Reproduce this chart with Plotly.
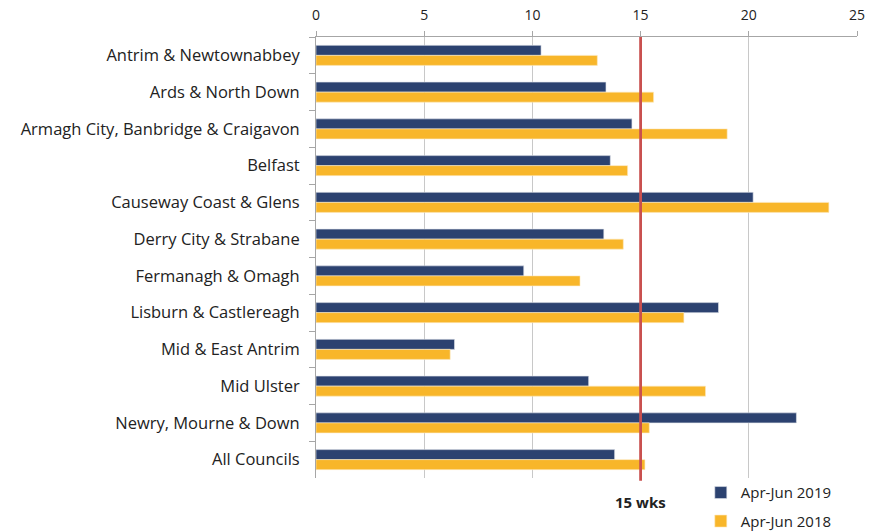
import plotly.graph_objects as go

councils = [
    "Antrim & Newtownabbey",
    "Ards & North Down",
    "Armagh City, Banbridge & Craigavon",
    "Belfast",
    "Causeway Coast & Glens",
    "Derry City & Strabane",
    "Fermanagh & Omagh",
    "Lisburn & Castlereagh",
    "Mid & East Antrim",
    "Mid Ulster",
    "Newry, Mourne & Down",
    "All Councils",
]
apr_jun_2019 = [10.4, 13.4, 14.6, 13.6, 20.2, 13.3, 9.6, 18.6, 6.4, 12.6, 22.2, 13.8]
apr_jun_2018 = [13.0, 15.6, 19.0, 14.4, 23.7, 14.2, 12.2, 17.0, 6.2, 18.0, 15.4, 15.2]
x_ticks = [0, 5, 10, 15, 20, 25]
target = 15
target_label = "15 wks"

NAVY = "#2c4270"
ORANGE = "#f8b62a"
RED = "#c9504f"
GRID = "#c8c8c8"
FONT = "Open Sans"

fig = go.Figure()
fig.add_trace(go.Bar(
    y=councils, x=apr_jun_2019, orientation="h", name="Apr-Jun 2019",
    marker=dict(color=NAVY, line=dict(color="#dfe3ea", width=0.6)),
    legendgroup="a",
))
fig.add_trace(go.Bar(
    y=councils, x=apr_jun_2018, orientation="h", name="Apr-Jun 2018",
    marker=dict(color=ORANGE, line=dict(color="#fde9bf", width=0.6)),
    legendgroup="b",
))

fig.add_shape(type="line", xref="x", yref="paper", x0=target, x1=target,
              y0=-0.006, y1=1, line=dict(color=RED, width=2.8), layer="above")
fig.add_annotation(x=target, xref="x", y=-0.054, yref="paper", text="<b>" + target_label + "</b>",
                   showarrow=False, font=dict(family=FONT, size=15, color="#222222"),
                   yanchor="middle", xanchor="center")

fig.update_layout(
    width=876, height=531,
    margin=dict(l=316, r=19, t=37, b=53, autoexpand=False),
    paper_bgcolor="white", plot_bgcolor="white",
    barmode="group", bargap=0.455, bargroupgap=0,
    font=dict(family=FONT, size=16, color="#222222"),
    showlegend=True,
    legend=dict(xref="container", yref="container", x=0.800, xanchor="left",
                y=0.103, yanchor="top",
                font=dict(family=FONT, size=15, color="#222222"),
                tracegroupgap=6, bgcolor="rgba(0,0,0,0)"),
    xaxis=dict(
        side="top", range=[0, 25], tickvals=x_ticks, ticktext=[str(t) for t in x_ticks],
        showgrid=True, gridcolor=GRID, gridwidth=1,
        showline=True, linecolor="#a6a6a6", linewidth=1,
        ticks="outside", ticklen=5, tickcolor="#a6a6a6",
        zeroline=False, tickfont=dict(family=FONT, size=14, color="#222222"),
        fixedrange=True, ticklabelstandoff=5, automargin=False,
    ),
    yaxis=dict(
        type="category", autorange="reversed",
        showline=True, linecolor="#a6a6a6", linewidth=1,
        ticks="outside", ticklen=6, tickcolor="#a6a6a6", tickson="boundaries",
        tickfont=dict(family=FONT, size=16.5, color="#222222"),
        showgrid=False, fixedrange=True, ticklabelstandoff=12, automargin=False,
    ),
)

fig.write_html("out.html", config={"displayModeBar": False},
               post_script="document.body.style.margin='0px';document.body.style.overflow='hidden';")
